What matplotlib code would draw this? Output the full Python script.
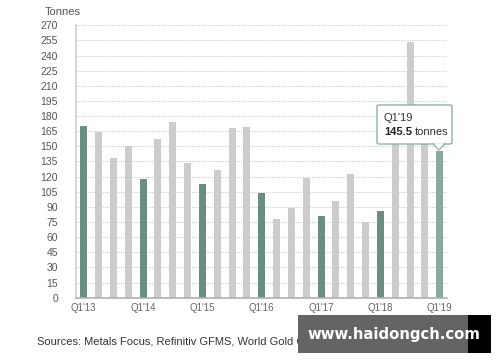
import matplotlib
matplotlib.use("Agg")
import matplotlib.pyplot as plt
from matplotlib.patches import Rectangle, FancyBboxPatch, Polygon

quarters = ["Q1'13","Q2'13","Q3'13","Q4'13","Q1'14","Q2'14","Q3'14","Q4'14",
            "Q1'15","Q2'15","Q3'15","Q4'15","Q1'16","Q2'16","Q3'16","Q4'16",
            "Q1'17","Q2'17","Q3'17","Q4'17","Q1'18","Q2'18","Q3'18","Q4'18","Q1'19"]
values = [170, 164.5, 138.5, 150.3, 117.3, 157, 174, 133.8,
          112.4, 126.6, 168, 169, 103.8, 78, 88.6, 118.3,
          81.3, 95.8, 122.6, 75, 86, 155, 253, 155, 145.5]
yticks = list(range(0, 271, 15))
xtick_labels = ["Q1'13","Q1'14","Q1'15","Q1'16","Q1'17","Q1'18","Q1'19"]

plt.rcParams['font.family'] = ['Liberation Sans', 'DejaVu Sans']
fig = plt.figure(figsize=(5, 3.62), dpi=100)
ax = fig.add_axes([76/500, 1-297.7/362, 371/500, 272.4/362])

colors = []
for i, q in enumerate(quarters):
    if i == len(quarters) - 1:
        colors.append('#8aaa9e')
    elif q.startswith('Q1'):
        colors.append('#6b8e82')
    else:
        colors.append('#cccccc')

x = list(range(len(quarters)))
ax.bar(x, values, width=0.47, color=colors, zorder=2)
ax.set_xlim(-0.52, 24.49)
ax.set_ylim(0, 270)
ax.set_yticks(yticks)
ax.set_yticklabels([str(v) for v in yticks], fontsize=7.5, color='#555555')
xt = [quarters.index(q) for q in xtick_labels]
ax.set_xticks(xt)
ax.set_xticklabels(xtick_labels, fontsize=7, color='#666666')
ax.tick_params(axis='both', length=0, pad=4)
ax.tick_params(axis='y', pad=13)
ax.grid(axis='y', linestyle=(0, (1, 1)), color='#cfcfcf', linewidth=0.8, zorder=0)
for s in ['top', 'right']:
    ax.spines[s].set_visible(False)
ax.spines['left'].set_color('#d0d0d0')
ax.spines['left'].set_linewidth(1.2)
ax.spines['bottom'].set_color('#b0b0b0')
ax.spines['bottom'].set_linewidth(1.2)

fig.text(45/500, 1-12/362, "Tonnes", fontsize=8, color='#555555', va='center', ha='left')

# Tooltip
def px(xp, yp):
    return (xp/500, 1-yp/362)
box = FancyBboxPatch(px(377, 144), 75/500, 39/362, boxstyle="round,pad=0,rounding_size=0.004",
                     transform=fig.transFigure, facecolor='white', edgecolor='#8fb0a4',
                     linewidth=1.0, zorder=5)
fig.patches.append(box)
tri = Polygon([px(433, 143.6), px(445, 143.6), px(439, 150)], closed=True,
              transform=fig.transFigure, facecolor='white', edgecolor='#8fb0a4',
              linewidth=1.0, zorder=6)
fig.patches.append(tri)
tri2 = Polygon([px(433.8, 143.2), px(444.2, 143.2), px(439, 148.8)], closed=True,
               transform=fig.transFigure, facecolor='white', edgecolor='none', zorder=7)
fig.patches.append(tri2)
fig.text(*px(384, 118), "Q1'19", fontsize=8, color='#333333', va='center', zorder=8)
fig.text(*px(384, 132), "145.5", fontsize=8, color='#222222', va='center',
         fontweight='bold', zorder=8)
fig.text(*px(414.5, 132), "tonnes", fontsize=8, color='#333333', va='center', zorder=8)

# Source
fig.text(37/500, 1-342/362, "Sources: Metals Focus, Refinitiv GFMS, World Gold Council, ",
         fontsize=8, color='#333333', va='center', ha='left')
fig.text(383/500, 1-342/362, "Disclaimer", fontsize=8, color='#8b6a3a', va='center', ha='left')

# Watermark
fig.patches.append(Rectangle(px(298, 353), 170/500, 38/362, transform=fig.transFigure,
                             facecolor='#646464', edgecolor='none', zorder=9))
fig.patches.append(Rectangle(px(468, 353), 23/500, 38/362, transform=fig.transFigure,
                             facecolor='#000000', edgecolor='none', zorder=9))
fig.text(px(394, 334)[0], px(394, 334)[1], "www.haidongch.com", fontsize=10.7,
         fontweight='bold', color='white', ha='center', va='center', zorder=10,
         family=['DejaVu Sans'])

fig.savefig("out.png", dpi=100)
